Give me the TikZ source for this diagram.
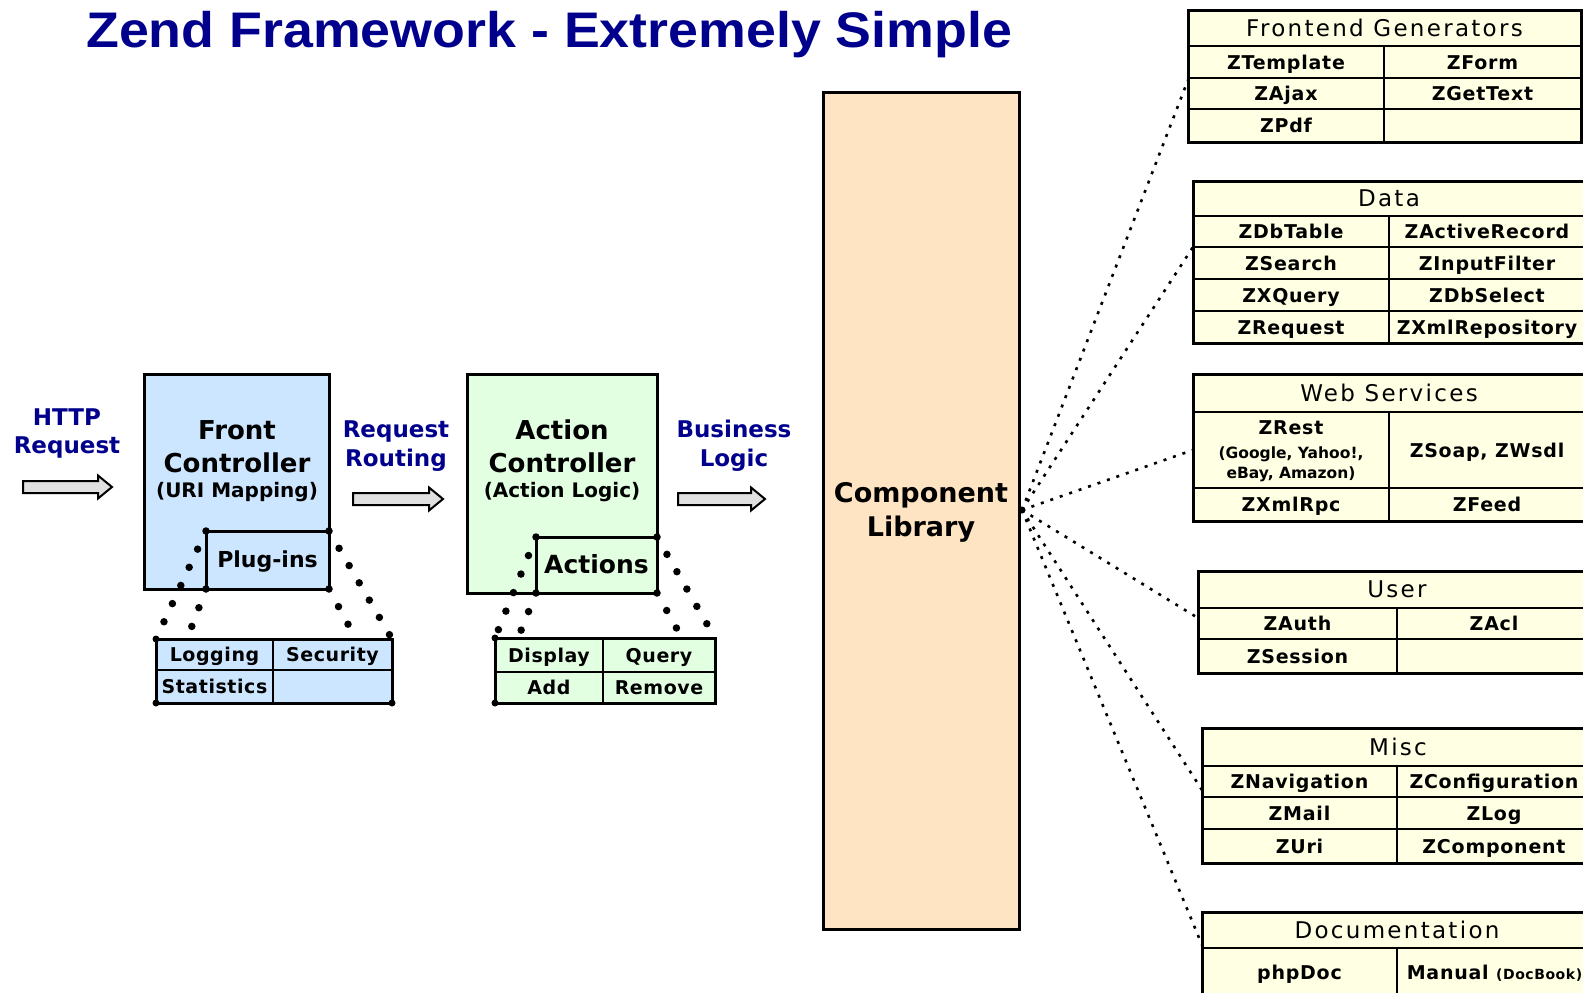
\documentclass[tikz,border=0pt]{standalone}
\usepackage{fontspec}
\usepackage{graphicx}
\setmainfont{DejaVu Sans}
\newfontfamily\titlefont{Liberation Sans}
\newfontfamily\hdfont[LetterSpace=10]{DejaVu Sans}
\newfontfamily\itfont[LetterSpace=4]{DejaVu Sans}
\newfontfamily\ptfont[LetterSpace=3]{DejaVu Sans}
\newcommand\zfs[1]{\fontsize{#1}{#1}\selectfont}
\definecolor{zblue}{RGB}{0,0,140}
\definecolor{fcblue}{RGB}{204,230,255}
\definecolor{acgreen}{RGB}{226,255,226}
\definecolor{compfill}{RGB}{255,228,196}
\definecolor{tabfill}{RGB}{255,255,228}
\definecolor{arrowgray}{RGB}{224,224,224}
\begin{document}
\begin{tikzpicture}[x=1pt,y=-1pt,
  box/.style={draw=black, line width=3pt, outer sep=0pt, inner sep=0pt, anchor=north west},
  tline/.style={draw=black, line width=1.6pt},
  tbl/.style={draw=black, line width=3pt, fill=tabfill},
  barrow/.style={draw=black, line width=2pt, fill=arrowgray, line join=miter},
  btxt/.style={inner sep=0pt, anchor=base},
  lbl/.style={btxt, text=zblue, font=\zfs{23}\bfseries},
  big/.style={btxt, font=\zfs{26}\bfseries},
  paren/.style={btxt, font=\zfs{20}\bfseries},
  hd/.style={inner sep=0pt, text height=16pt, text depth=0pt, font=\hdfont\zfs{23}},
  cell/.style={inner sep=0pt, text height=14pt, text depth=0pt, font=\itfont\zfs{19}\bfseries},
  pcell/.style={inner sep=0pt, text height=14pt, text depth=0pt, font=\ptfont\zfs{19}\bfseries},
  tiny/.style={inner sep=0pt, text height=11pt, text depth=0pt, font=\zfs{15.5}\bfseries},
  zdots/.style={line width=7.5pt, line cap=round, dash pattern=on 0pt off 20pt},
  fan/.style={line width=2.6pt, dash pattern=on 3pt off 7pt}]
\useasboundingbox (0,0) rectangle (1583,993);

% title
\node[anchor=base west, inner sep=0pt, text=zblue] (title) at (86,47)
  {\titlefont\bfseries\zfs{50}\scalebox{1.075}[1]{Zend Framework - Extremely Simple}};

% HTTP request
\node[lbl] (http1) at (67,425.5) {HTTP};
\node[lbl] (http2) at (67,453) {Request};
\draw[barrow] (23,481) -- (98,481) -- (98,475.5) -- (112,487) -- (98,498.5) -- (98,493) -- (23,493) -- cycle;

% Front controller
\node[box, fill=fcblue, minimum width=185pt, minimum height=215pt] (fc) at (144,374) {};
\node[big] (fct1) at (237,439) {Front};
\node[big] (fct2) at (237,472.5) {Controller};
\node[paren] (fct3) at (237,497.5) {(URI Mapping)};
\node[box, fill=fcblue, minimum width=123pt, minimum height=58pt] (pl) at (206,531) {};
\node[btxt, font=\zfs{22}\bfseries] (plt) at (267.5,567) {Plug-ins};

% plug-in table
\node[box, fill=fcblue, minimum width=236pt, minimum height=64pt] (ptab) at (156,639) {};
\draw[tline] (ptab.west |- 0,670) -- (ptab.east |- 0,670);
\draw[tline] (273,639) -- (273,703);
\node[pcell] (plog) at (214.5,654.5) {Logging};
\node[pcell] (psec) at (332.5,654.5) {Security};
\node[pcell] (psta) at (214.5,686.5) {Statistics};

% plug-in zoom dots
\draw[zdots] (pl.north west) -- (ptab.north west);
\draw[zdots] (pl.south west) -- (187,639);
\draw[zdots] (pl.north east) -- (ptab.north east);
\draw[zdots] (pl.south east) -- (356,639);
\fill (ptab.south west) circle (3.5);
\fill (ptab.south east) circle (3.5);
\fill (ptab.north west) circle (3.5);

% Request routing
\node[lbl] (rr1) at (396,437) {Request};
\node[lbl] (rr2) at (396,466) {Routing};
\draw[barrow] (353,493) -- (429,493) -- (429,487.5) -- (443,499) -- (429,510.5) -- (429,505) -- (353,505) -- cycle;

% Action controller
\node[box, fill=acgreen, minimum width=190pt, minimum height=219pt] (ac) at (467,374) {};
\node[big] (act1) at (562,439) {Action};
\node[big] (act2) at (562,472.5) {Controller};
\node[paren] (act3) at (562,497.5) {(Action Logic)};
\node[box, fill=acgreen, minimum width=121pt, minimum height=56pt] (acts) at (536,537) {};
\node[btxt, font=\zfs{25}\bfseries] (actst) at (596.5,573) {Actions};

% actions table
\node[box, fill=acgreen, minimum width=220pt, minimum height=65pt] (atab) at (495,638) {};
\draw[tline] (atab.west |- 0,672) -- (atab.east |- 0,672);
\draw[tline] (603,638) -- (603,703);
\node[pcell] (adis) at (549,655) {Display};
\node[pcell] (aque) at (659,655) {Query};
\node[pcell] (aadd) at (549,687.5) {Add};
\node[pcell] (arem) at (659,687.5) {Remove};

\draw[zdots] (acts.north west) -- (atab.north west);
\draw[zdots] (acts.south west) -- (518,638);
\draw[zdots] (acts.north east) -- (atab.north east);
\draw[zdots] (acts.south east) -- (682,638);
\fill (atab.south west) circle (3.5);
\fill (atab.north west) circle (3.5);

% Business logic
\node[lbl] (bl1) at (734,437) {Business};
\node[lbl] (bl2) at (734,466) {Logic};
\draw[barrow] (678,493) -- (751,493) -- (751,487.5) -- (765,499) -- (751,510.5) -- (751,505) -- (678,505) -- cycle;

% Component library
\node[box, fill=compfill, minimum width=196pt, minimum height=837pt] (comp) at (823,92) {};
\node[big, font=\zfs{27}\bfseries] (compt1) at (921,502) {Component};
\node[big, font=\zfs{27}\bfseries] (compt2) at (921,536) {Library};
\coordinate (hub) at (1022,510);

% Frontend Generators
\draw[tbl] (1188,10) rectangle (1581,142);
\draw[tline] (1188,46) -- (1581,46) (1188,78) -- (1581,78) (1188,109) -- (1581,109) (1384,46) -- (1384,142);
\node[hd] (fgh) at (1384.5,28) {Frontend Generators};
\node[cell] (fg1) at (1286,62) {ZTemplate};
\node[cell] (fg2) at (1482.5,62) {ZForm};
\node[cell] (fg3) at (1286,93.5) {ZAjax};
\node[cell] (fg4) at (1482.5,93.5) {ZGetText};
\node[cell] (fg5) at (1286,125.5) {ZPdf};
\coordinate (fgin) at (1188,80);

% Data
\draw[tbl] (1193,181) rectangle (1585,343);
\draw[tline] (1193,216) -- (1585,216) (1193,247) -- (1585,247) (1193,279) -- (1585,279) (1193,311) -- (1585,311) (1389,216) -- (1389,343);
\node[hd] (dah) at (1389,198.5) {Data};
\node[cell] (da1) at (1291,231.5) {ZDbTable};
\node[cell] (da2) at (1487,231.5) {ZActiveRecord};
\node[cell] (da3) at (1291,263) {ZSearch};
\node[cell] (da4) at (1487,263) {ZInputFilter};
\node[cell] (da5) at (1291,295) {ZXQuery};
\node[cell] (da6) at (1487,295) {ZDbSelect};
\node[cell] (da7) at (1291,327) {ZRequest};
\node[cell] (da8) at (1487,327) {ZXmlRepository};
\coordinate (dain) at (1193,247);

% Web Services
\draw[tbl] (1193,374) rectangle (1585,521);
\draw[tline] (1193,412) -- (1585,412) (1193,488) -- (1585,488) (1389,412) -- (1389,521);
\node[hd] (wsh) at (1389,393) {Web Services};
\node[cell] (ws1) at (1291,427) {ZRest};
\node[tiny] (ws1b) at (1291,453) {(Google, Yahoo!,};
\node[tiny] (ws1c) at (1291,473) {eBay, Amazon)};
\node[cell] (ws2) at (1487,450) {ZSoap, ZWsdl};
\node[cell] (ws3) at (1291,504.5) {ZXmlRpc};
\node[cell] (ws4) at (1487,504.5) {ZFeed};
\coordinate (wsin) at (1193,450);

% User
\draw[tbl] (1198,571) rectangle (1596,673);
\draw[tline] (1198,608) -- (1596,608) (1198,639) -- (1596,639) (1397,608) -- (1397,673);
\node[hd] (ush) at (1397,589.5) {User};
\node[cell] (us1) at (1297.5,623.5) {ZAuth};
\node[cell] (us2) at (1494,623.5) {ZAcl};
\node[cell] (us3) at (1297.5,656) {ZSession};
\coordinate (usin) at (1198,618);

% Misc
\draw[tbl] (1202,728) rectangle (1594,863);
\draw[tline] (1202,766) -- (1594,766) (1202,797) -- (1594,797) (1202,829) -- (1594,829) (1397,766) -- (1397,863);
\node[hd] (mih) at (1398,747) {Misc};
\node[cell] (mi1) at (1299.5,781.5) {ZNavigation};
\node[cell] (mi2) at (1494,781.5) {ZConfiguration};
\node[cell] (mi3) at (1299.5,813) {ZMail};
\node[cell] (mi4) at (1494,813) {ZLog};
\node[cell] (mi5) at (1299.5,846) {ZUri};
\node[cell] (mi6) at (1494,846) {ZComponent};
\coordinate (miin) at (1202,790);

% Documentation
\draw[tbl] (1202,912) rectangle (1592,1005);
\draw[tline] (1202,948) -- (1592,948) (1397,948) -- (1397,1005);
\node[hd] (doh) at (1397,930) {Documentation};
\node[cell] (do1) at (1299.5,972) {phpDoc};
\node[cell] (do2) at (1494.5,972) {Manual {\zfs{14}(DocBook)}};
\coordinate (doin) at (1202,945);

% fan
\draw[fan] (hub) -- (fgin);
\draw[fan] (hub) -- (dain);
\draw[fan] (hub) -- (wsin);
\draw[fan] (hub) -- (usin);
\draw[fan] (hub) -- (miin);
\draw[fan] (hub) -- (doin);
\fill (hub) circle (3.5);
\end{tikzpicture}
\end{document}
